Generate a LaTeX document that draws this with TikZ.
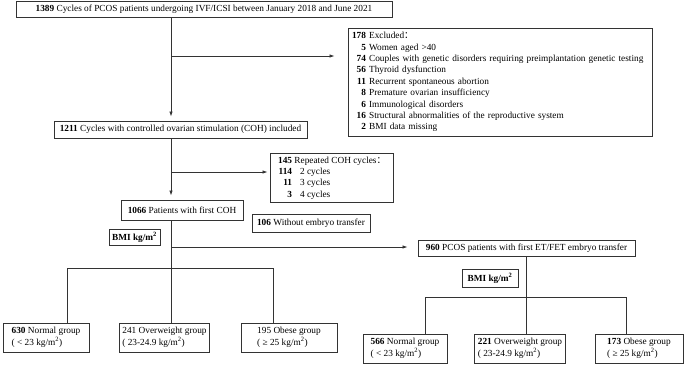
\documentclass[tikz,border=0pt]{standalone}
\usepackage{fontspec}
\setmainfont{Liberation Serif}
\newfontfamily\cjkfont{Noto Sans CJK SC}
\usetikzlibrary{arrows.meta}

\newcommand{\cnt}[2][13pt]{\makebox[#1][r]{\textbf{#2}}}
\newcommand{\fullcolon}{{\cjkfont ：}}
\newcommand{\kgm}{kg/m\textsuperscript{2}}

\tikzset{
    box/.style={draw=black!80, line width=0.9pt, inner sep=3pt,
                align=left, font=\fontsize{9.3}{11.4}\selectfont},
    group/.style={box, minimum height=29pt, font=\fontsize{9.3}{12}\selectfont},
    flow/.style={-{Latex[length=5pt,width=3.5pt]}, line width=0.8pt,
                 draw=black!80},
    link/.style={line width=0.8pt, draw=black!80},
}

\begin{document}
\begin{tikzpicture}[x=1pt, y=-1pt]
    \useasboundingbox (0,0) rectangle (685,367);

    % main column
    \node[box, minimum width=376pt, minimum height=16pt] (cycles) at (204,9)
        {\textbf{1389} Cycles of PCOS patients undergoing IVF/ICSI between January 2018 and June 2021};
    \node[box, inner xsep=5pt, text width=294pt, minimum height=108pt] (excluded) at (500,82) {
        \cnt{178} Excluded\fullcolon\\
        \cnt{5} Women aged >40\\
        \cnt{74} Couples with genetic disorders requiring preimplantation genetic testing\\
        \cnt{56} Thyroid dysfunction\\
        \cnt{11} Recurrent spontaneous abortion\\
        \cnt{8} Premature ovarian insufficiency\\
        \cnt{6} Immunological disorders\\
        \cnt{16} Structural abnormalities of the reproductive system\\
        \cnt{2} BMI data missing};
    \node[box, minimum width=253pt, minimum height=17pt] (included) at (180.5,129.5)
        {\textbf{1211} Cycles with controlled ovarian stimulation (COH) included};
    \node[box, minimum width=123pt, minimum height=48pt] (repeated) at (331.5,178) {
        \cnt[15pt]{145} Repeated COH cycles\fullcolon\\
        \cnt[15pt]{114}\hspace{8pt}2 cycles\\
        \cnt[15pt]{11}\hspace{8pt}3 cycles\\
        \cnt[15pt]{3}\hspace{8pt}4 cycles};
    \node[box, minimum width=122pt, minimum height=20pt] (first) at (182,210)
        {\textbf{1066} Patients with first COH};
    \node[box, minimum width=51pt, minimum height=15pt] (bmiL) at (134.5,237.5)
        {\textbf{BMI kg/m\textsuperscript{2}}};
    \node[box, minimum width=118pt, minimum height=18pt] (notransfer) at (311,223)
        {\textbf{106} Without embryo transfer};
    \node[box, minimum width=217pt, minimum height=16pt] (transfer) at (526.5,248)
        {\textbf{960} PCOS patients with first ET/FET embryo transfer};
    \node[box, minimum width=56pt, minimum height=18pt] (bmiR) at (490,278)
        {\textbf{BMI kg/m\textsuperscript{2}}};

    % groups
    \node[group, minimum width=86pt] (gNormA) at (46,337.5)
        {\textbf{630} Normal group\\( < 23 \kgm )};
    \node[group, minimum width=89pt] (gOverA) at (164.5,337.5)
        {241 Overweight group\\( 23-24.9 \kgm )};
    \node[group, minimum width=96pt] (gObeseA) at (289,337.5)
        {195 Obese group\\( ≥ 25 \kgm )};
    \node[group, minimum width=84pt] (gNormB) at (405,348.5)
        {\textbf{566} Normal group\\( < 23 \kgm )};
    \node[group, minimum width=88pt] (gOverB) at (520,348.5)
        {\textbf{221} Overweight group\\( 23-24.9 \kgm )};
    \node[group, minimum width=88pt] (gObeseB) at (639,348.5)
        {\textbf{173} Obese group\\( ≥ 25 \kgm )};

    \coordinate (split1) at (171,56);
    \coordinate (split2) at (171,172);
    \coordinate (split3) at (171,247);
    \coordinate (busA1) at (67,268);
    \coordinate (busA2) at (273,268);
    \coordinate (busB1) at (425,297);
    \coordinate (busB2) at (626,297);

    \draw[flow, shorten >=4pt] (cycles.south -| split1) -- (included.north -| split1);
    \draw[flow, shorten >=13pt] (split1) -- (excluded.west |- split1);
    \draw[flow, shorten >=4pt] (included.south -| split2) -- (first.north -| split2);
    \draw[flow, shorten >=2pt] (split2) -- (repeated.west |- split2);
    \draw[link] (first.south -| split3) -- (gOverA.north -| split3);
    \draw[flow, shorten >=10pt] (split3) -- (transfer.west |- split3);
    \draw[link] (gNormA.north -| busA1) |- (busA2) -- (gObeseA.north -| busA2);
    \draw[link] (transfer.south) -- (gOverB.north -| transfer.south);
    \draw[link] (gNormB.north -| busB1) |- (busB2) -- (gObeseB.north -| busB2);

\end{tikzpicture}
\end{document}
